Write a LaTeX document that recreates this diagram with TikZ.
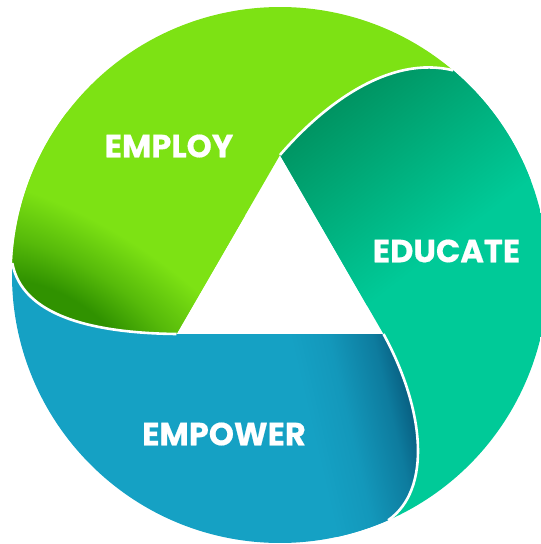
\documentclass[tikz,border=0pt]{standalone}
\usepackage{fontspec}
\newfontfamily\lblfont{Poppins}[FakeBold=0.5]
\definecolor{gbright}{RGB}{125,226,20}
\definecolor{gdark}{RGB}{48,146,0}
\definecolor{tbright}{RGB}{0,202,152}
\definecolor{tdark}{RGB}{0,143,93}
\definecolor{bbright}{RGB}{21,161,196}
\definecolor{bdark}{RGB}{6,86,120}
\colorlet{gmid}{gbright!50!gdark}
\colorlet{bmidA}{bbright!88!bdark}
\colorlet{bmidB}{bbright!50!bdark}
\colorlet{tmid}{tbright!50!tdark}
% radial shading: central 25bp radius fills the path's bounding box
\pgfdeclareradialshading{greenrad}{\pgfpoint{0bp}{0bp}}{color(0bp)=(gdark); color(4.4bp)=(gdark); color(8.75bp)=(gmid); color(14.4bp)=(gbright); color(50bp)=(gbright)}
\pgfdeclarehorizontalshading{bluesh}{100bp}{color(0bp)=(bbright); color(25bp)=(bbright); color(42bp)=(bmidA); color(62bp)=(bmidB); color(75bp)=(bdark); color(100bp)=(bdark)}
\pgfdeclareverticalshading{tealsh}{100bp}{color(0bp)=(tdark); color(25bp)=(tdark); color(50bp)=(tmid); color(75bp)=(tbright); color(100bp)=(tbright)}
\begin{document}
\begin{tikzpicture}[x=1pt,y=1pt,
  lbl/.style={font=\lblfont\bfseries\fontsize{32}{32}\selectfont, text=white, inner sep=0pt},
  seam/.style={draw=white, line width=2.6pt}]
\useasboundingbox (0,0) rectangle (541,-544);
\clip (0,0) rectangle (541,-544);
% key points
\coordinate (C) at (280,-275);
\coordinate (PL) at ([shift={(C)}]177.44:268);
\coordinate (PTR) at ([shift={(C)}]49.8:268);
\coordinate (PB) at ([shift={(C)}]-66.2:268);
\coordinate (T) at (280,-155);
\coordinate (BL) at (176.5,-334);
\coordinate (BR) at (383.5,-334);
% EMPLOY band (green)
\begin{scope}
  \clip (PTR) arc[start angle=49.8, end angle=177.44, radius=268]
    .. controls (22,-315) and (90,-333) .. (BL) -- (T)
    .. controls (325,-103) and (390,-55) .. (PTR) -- cycle;
  \fill[gbright] (0,0) rectangle (541,-544);
  \begin{scope}[transform canvas={shift={(55,-330)}, rotate=-30, xscale=2.2}]
    \shade[shading=greenrad] (0,0) circle (200);
  \end{scope}
\end{scope}
% EDUCATE band (teal)
\begin{scope}
  \clip (PB) arc[start angle=-66.2, end angle=49.8, radius=268]
    .. controls (390,-55) and (325,-103) .. (T) -- (BR)
    .. controls (425,-410) and (432,-490) .. (PB) -- cycle;
  \fill[tbright] (0,0) rectangle (541,-544);
  \begin{scope}[transform canvas={shift={(320,-95)}, rotate=-142.3}]
    \fill[tdark] (-400,-300) rectangle (400,0);
    \shade[shading=tealsh] (-400,0) rectangle (400,196);
  \end{scope}
\end{scope}
% EMPOWER band (blue)
\begin{scope}
  \clip (PL) arc[start angle=177.44, end angle=293.8, radius=268]
    .. controls (432,-490) and (425,-410) .. (BR) -- (BL)
    .. controls (90,-333) and (22,-315) .. (PL) -- cycle;
  \fill[bbright] (0,0) rectangle (541,-544);
  \begin{scope}[transform canvas={shift={(295,-360)}, rotate=13.2}]
    \shade[shading=bluesh] (0,-400) rectangle (110,400);
    \fill[bdark] (110,-400) rectangle (400,400);
  \end{scope}
\end{scope}
% white seams
\draw[seam] (PL) .. controls (22,-315) and (90,-333) .. (BL);
\draw[seam] (T) .. controls (325,-103) and (390,-55) .. (PTR);
\draw[seam] (BR) .. controls (425,-410) and (432,-490) .. (PB);
% labels
\node[lbl] (employ) at (169,-146) {EMPLOY};
\node[lbl] (educate) at (446.5,-251) {EDUCATE};
\node[lbl] (empower) at (224,-434) {EMPOWER};
\end{tikzpicture}
\end{document}
